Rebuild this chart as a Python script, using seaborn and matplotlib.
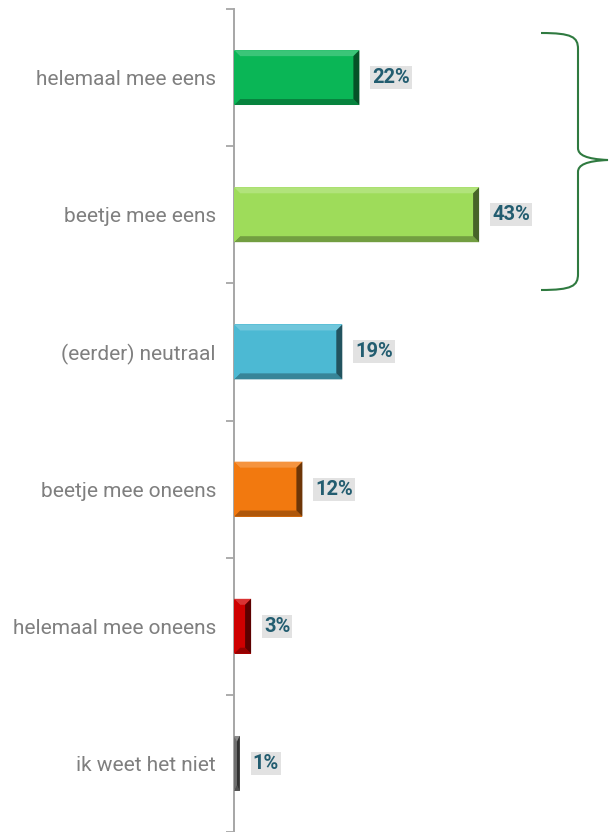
import matplotlib
matplotlib.use("Agg")
import matplotlib.pyplot as plt
import matplotlib.colors as mcolors
from matplotlib.patches import Polygon, PathPatch
from matplotlib.path import Path
import seaborn as sns
import pandas as pd

categories = [
    "helemaal mee eens",
    "beetje mee eens",
    "(eerder) neutraal",
    "beetje mee oneens",
    "helemaal mee oneens",
    "ik weet het niet",
]
values = [22, 43, 19, 12, 3, 1]
colors = ["#0ab656", "#9edc5a", "#4cb9d3", "#f2790f", "#cf0000", "#6f6f6f"]

sns.set_theme(style="white")
plt.rcParams["font.family"] = ["Roboto", "DejaVu Sans"]

df = pd.DataFrame({"categorie": categories, "aandeel": values})

fig = plt.figure(figsize=(6.09, 8.32), dpi=100)
ax = fig.add_axes([234 / 609, 0.0, 342 / 609, 1 - 9 / 832])

sns.barplot(data=df, x="aandeel", y="categorie", hue="categorie",
            palette=colors, legend=False, width=0.4, ax=ax,
            saturation=1, edgecolor="none")

ax.set_xlim(0, 60)
ax.set_ylim(5.485, -0.5)
ax.set_xlabel("")
ax.set_ylabel("")
ax.set_xticks([])

# category labels without marks, separators as minor ticks
ax.set_yticks(range(len(categories)))
ax.set_yticklabels(categories, fontsize=15, color="#7f7f7f")
ax.tick_params(axis="y", which="major", length=0, pad=13)
ax.set_yticks([i - 0.5 for i in range(len(categories) + 1)], minor=True)
ax.tick_params(axis="y", which="minor", left=True, length=6, width=1.3,
               color="#a6a6a6", direction="out")

for side in ["top", "right", "bottom"]:
    ax.spines[side].set_visible(False)
ax.spines["left"].set_color("#a6a6a6")
ax.spines["left"].set_linewidth(1.4)

# bevelled look on each bar
px_x = 60 / 342
px_y = 5.985 / 823
for patch, col in zip(ax.patches, colors):
    x0, y0 = patch.get_x(), patch.get_y()
    w, h = patch.get_width(), patch.get_height()
    x1, y1 = x0 + w, y0 + h
    bx = min(6 * px_x, w / 2)
    by = min(6 * px_y, h / 2)
    base = mcolors.to_rgb(col)
    light = tuple(min(1, c + (1 - c) * 0.2) for c in base)
    dark = tuple(c * 0.72 for c in base)
    darker = tuple(c * 0.45 for c in base)
    # top (y0 is top because the axis is inverted)
    ax.add_patch(Polygon([(x0, y0), (x1, y0), (x1 - bx, y0 + by), (x0 + bx, y0 + by)],
                         closed=True, fc=light, ec="none", zorder=3))
    ax.add_patch(Polygon([(x0, y1), (x1, y1), (x1 - bx, y1 - by), (x0 + bx, y1 - by)],
                         closed=True, fc=dark, ec="none", zorder=3))
    ax.add_patch(Polygon([(x1, y0), (x1, y1), (x1 - bx, y1 - by), (x1 - bx, y0 + by)],
                         closed=True, fc=darker, ec="none", zorder=3))
    ax.add_patch(Polygon([(x0, y0), (x0, y1), (x0 + bx, y1 - by), (x0 + bx, y0 + by)],
                         closed=True, fc=base, ec="none", zorder=3))

# value labels
for i, v in enumerate(values):
    ax.text(v + 13 * px_x, i, f"{v}%", va="center", ha="left",
            fontsize=14.5, fontweight="bold", color="#235d70",
            bbox=dict(boxstyle="square,pad=0.1", fc="#e2e2e2", ec="none"),
            zorder=4)

# curly brace grouping the two agreeing answers
def fx(px):
    return px / 609
def fy(py):
    return 1 - py / 832

xl, xm, xt = 541, 578, 608
yt, ymid, yb = 33, 160, 290
verts = [
    (xl, yt), (572, yt), (xm, yt + 4), (xm, yt + 16),
    (xm, ymid - 12), (xm, ymid - 5), (xm + 8, ymid - 1), (xt, ymid),
    (xm + 8, ymid + 1), (xm, ymid + 5), (xm, ymid + 12),
    (xm, yb - 16), (xm, yb - 4), (572, yb), (xl, yb),
]
codes = [Path.MOVETO, Path.CURVE4, Path.CURVE4, Path.CURVE4,
         Path.LINETO, Path.CURVE4, Path.CURVE4, Path.CURVE4,
         Path.CURVE4, Path.CURVE4, Path.CURVE4,
         Path.LINETO, Path.CURVE4, Path.CURVE4, Path.CURVE4]
brace = Path([(fx(a), fy(b)) for a, b in verts], codes)
fig.patches.append(PathPatch(brace, transform=fig.transFigure, fc="none",
                             ec="#2f7a40", lw=1.5))

fig.savefig("out.png", dpi=100)
